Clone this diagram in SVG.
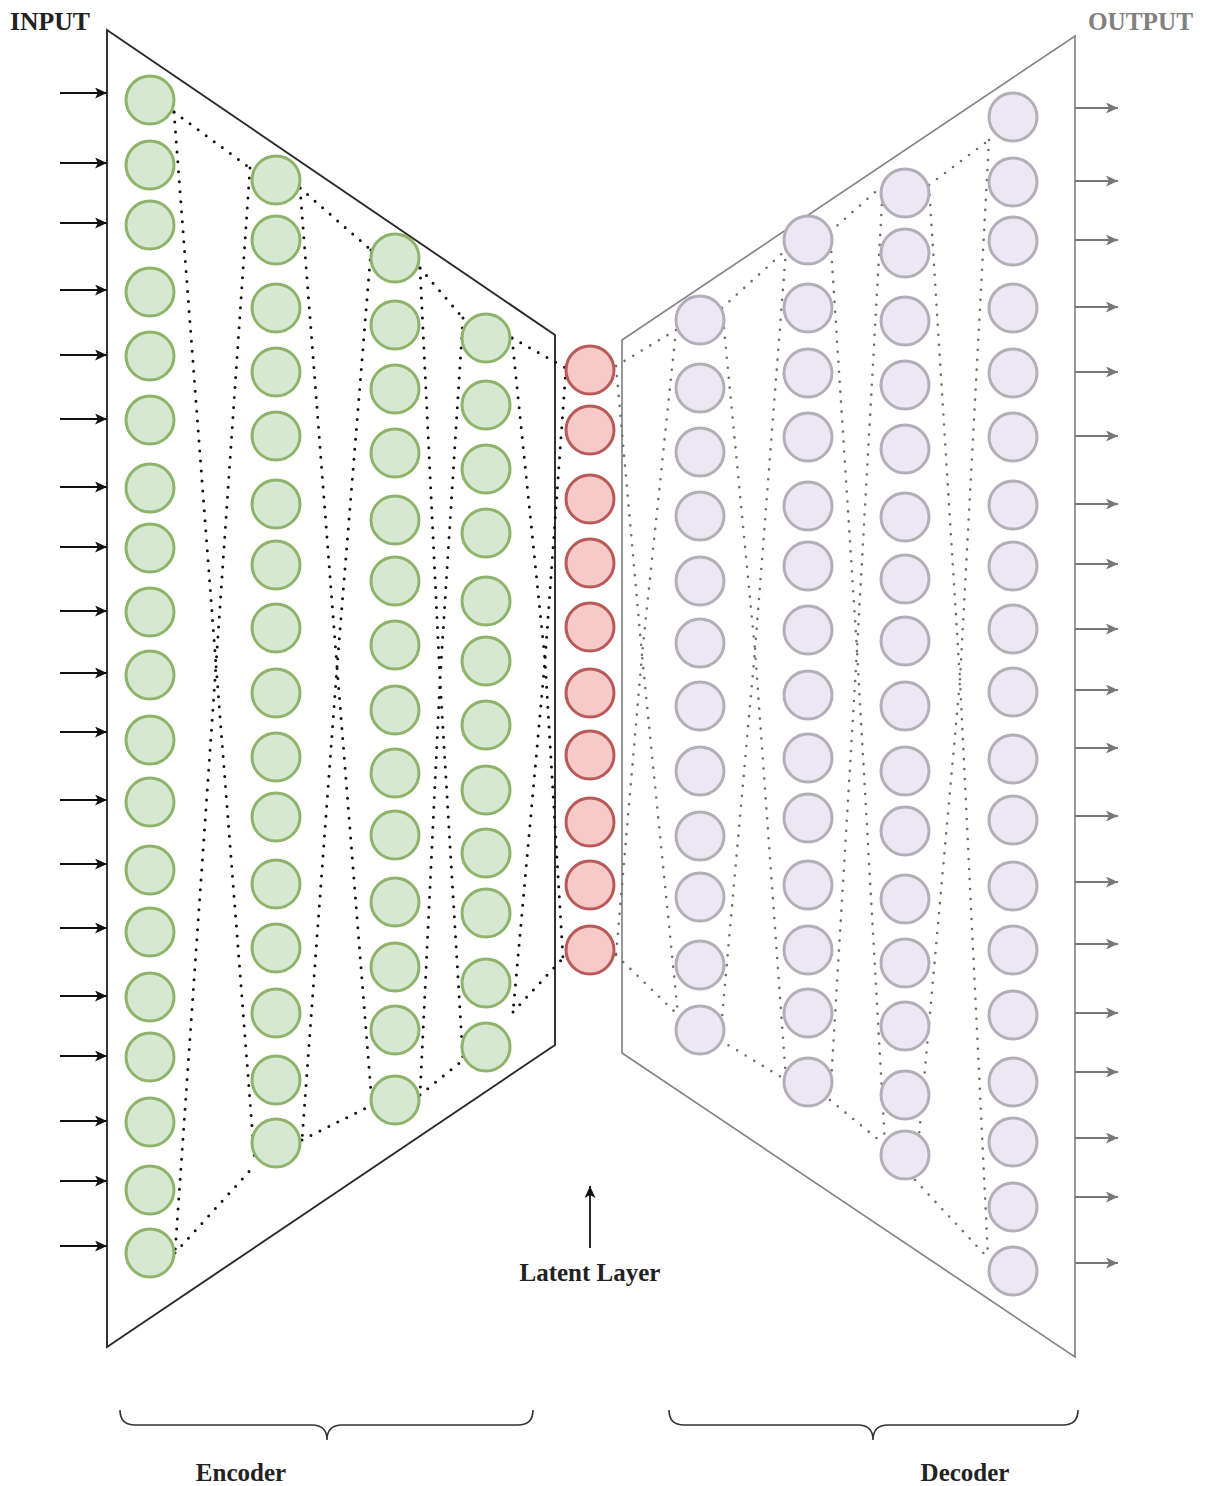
<svg xmlns="http://www.w3.org/2000/svg" width="1206" height="1486" viewBox="0 0 1206 1486">
<defs>
<style>
.ge{fill:#d7e8d2;stroke:#8db46a;stroke-width:3}
.lr{fill:#f5cac8;stroke:#b85a57;stroke-width:3}
.dp{fill:#ebe8f4;stroke:#b2afb8;stroke-width:3}
.edot{fill:none;stroke:#111;stroke-width:3;stroke-dasharray:0 10;stroke-linecap:round}
.ddot{fill:none;stroke:#6e6e6e;stroke-width:2.6;stroke-dasharray:0 10;stroke-linecap:round}
.tb{font-family:"Liberation Serif",serif;font-weight:bold;font-size:25px}
.ina{stroke:#111;stroke-width:1.8;marker-end:url(#ah)}
.outa{stroke:#777;stroke-width:1.8;marker-end:url(#ahg)}
</style>
<marker id="ah" markerUnits="userSpaceOnUse" markerWidth="13" markerHeight="11" refX="12" refY="5.5" orient="auto"><path d="M0,0 L12,5.5 L0,11 L3,5.5 z" fill="#111"/></marker>
<marker id="ahg" markerUnits="userSpaceOnUse" markerWidth="13" markerHeight="11" refX="12" refY="5.5" orient="auto"><path d="M0,0 L12,5.5 L0,11 L3,5.5 z" fill="#777"/></marker>
</defs>
<rect width="1206" height="1486" fill="#fff"/>
<g id="frames">
<polygon id="encoder-frame" points="107,30 555,335 555,1045 107,1347" fill="none" stroke="#2a2a2a" stroke-width="1.9"/>
<polygon id="decoder-frame" points="622,340 1075,36 1075,1357 622,1053" fill="none" stroke="#858585" stroke-width="1.7"/>
</g>
<g id="connectors">
<g id="encoder-dots">
<path class="edot" d="M174,112 L250,168"/>
<path class="edot" d="M300,188 L371,250"/>
<path class="edot" d="M420,268 L463,318"/>
<path class="edot" d="M512,338 L566,368"/>
<path class="edot" d="M175,1253 L255,1165"/>
<path class="edot" d="M302,1140 L372,1105"/>
<path class="edot" d="M420,1095 L463,1060"/>
<path class="edot" d="M513,1012 L563,958"/>
<path class="edot" d="M174,112 L216,665 L175,1253"/>
<path class="edot" d="M250,168 L216,665 L255,1165"/>
<path class="edot" d="M300,188 L337,667 L302,1140"/>
<path class="edot" d="M371,250 L337,667 L372,1105"/>
<path class="edot" d="M420,268 L440,680 L420,1095"/>
<path class="edot" d="M463,318 L440,680 L463,1060"/>
<path class="edot" d="M512,338 L545,660 L513,1012"/>
<path class="edot" d="M566,368 L545,660 L563,958"/>
</g>
<g id="decoder-dots">
<path class="ddot" d="M616,366 L676,330"/>
<path class="ddot" d="M722,308 L786,250"/>
<path class="ddot" d="M830,232 L883,185"/>
<path class="ddot" d="M929,185 L989,140"/>
<path class="ddot" d="M616,955 L678,1015"/>
<path class="ddot" d="M720,1040 L786,1080"/>
<path class="ddot" d="M830,1100 L885,1145"/>
<path class="ddot" d="M915,1180 L988,1258"/>
<path class="ddot" d="M616,366 L642,655 L616,955"/>
<path class="ddot" d="M676,330 L642,655 L678,1015"/>
<path class="ddot" d="M722,308 L755,650 L720,1040"/>
<path class="ddot" d="M786,250 L755,650 L786,1080"/>
<path class="ddot" d="M830,232 L857,650 L830,1100"/>
<path class="ddot" d="M883,185 L857,650 L885,1145"/>
<path class="ddot" d="M929,185 L960,680 L915,1180"/>
<path class="ddot" d="M989,140 L960,680 L988,1258"/>
</g>
<g id="input-arrows">
<line class="ina" x1="60" y1="93" x2="107" y2="93"/>
<line class="ina" x1="60" y1="163" x2="107" y2="163"/>
<line class="ina" x1="60" y1="223" x2="107" y2="223"/>
<line class="ina" x1="60" y1="290" x2="107" y2="290"/>
<line class="ina" x1="60" y1="355" x2="107" y2="355"/>
<line class="ina" x1="60" y1="419" x2="107" y2="419"/>
<line class="ina" x1="60" y1="487" x2="107" y2="487"/>
<line class="ina" x1="60" y1="547" x2="107" y2="547"/>
<line class="ina" x1="60" y1="611" x2="107" y2="611"/>
<line class="ina" x1="60" y1="673" x2="107" y2="673"/>
<line class="ina" x1="60" y1="732" x2="107" y2="732"/>
<line class="ina" x1="60" y1="800" x2="107" y2="800"/>
<line class="ina" x1="60" y1="864" x2="107" y2="864"/>
<line class="ina" x1="60" y1="928" x2="107" y2="928"/>
<line class="ina" x1="60" y1="996" x2="107" y2="996"/>
<line class="ina" x1="60" y1="1056" x2="107" y2="1056"/>
<line class="ina" x1="60" y1="1121" x2="107" y2="1121"/>
<line class="ina" x1="60" y1="1181" x2="107" y2="1181"/>
<line class="ina" x1="60" y1="1246" x2="107" y2="1246"/>
</g>
<g id="output-arrows">
<line class="outa" x1="1075" y1="108" x2="1118" y2="108"/>
<line class="outa" x1="1075" y1="181" x2="1118" y2="181"/>
<line class="outa" x1="1075" y1="240" x2="1118" y2="240"/>
<line class="outa" x1="1075" y1="307" x2="1118" y2="307"/>
<line class="outa" x1="1075" y1="372" x2="1118" y2="372"/>
<line class="outa" x1="1075" y1="436" x2="1118" y2="436"/>
<line class="outa" x1="1075" y1="504" x2="1118" y2="504"/>
<line class="outa" x1="1075" y1="564" x2="1118" y2="564"/>
<line class="outa" x1="1075" y1="629" x2="1118" y2="629"/>
<line class="outa" x1="1075" y1="690" x2="1118" y2="690"/>
<line class="outa" x1="1075" y1="748" x2="1118" y2="748"/>
<line class="outa" x1="1075" y1="816" x2="1118" y2="816"/>
<line class="outa" x1="1075" y1="882" x2="1118" y2="882"/>
<line class="outa" x1="1075" y1="944" x2="1118" y2="944"/>
<line class="outa" x1="1075" y1="1013" x2="1118" y2="1013"/>
<line class="outa" x1="1075" y1="1072" x2="1118" y2="1072"/>
<line class="outa" x1="1075" y1="1138" x2="1118" y2="1138"/>
<line class="outa" x1="1075" y1="1197" x2="1118" y2="1197"/>
<line class="outa" x1="1075" y1="1263" x2="1118" y2="1263"/>
</g>
<line id="latent-arrow" class="ina" x1="590" y1="1248" x2="590" y2="1186"/>
<g id="braces" fill="none" stroke="#333" stroke-width="1.6">
<path d="M120,1410 Q120,1425 135,1425 L312,1425 Q327,1425 327,1440 Q327,1425 342,1425 L518,1425 Q533,1425 533,1410"/>
<path d="M669,1410 Q669,1425 684,1425 L858,1425 Q873,1425 873,1440 Q873,1425 888,1425 L1063,1425 Q1078,1425 1078,1410"/>
</g>
</g>
<g id="encoder-layer1">
<g id="e1-01"><circle class="ge" cx="150" cy="100" r="24"/></g>
<g id="e1-02"><circle class="ge" cx="150" cy="165" r="24"/></g>
<g id="e1-03"><circle class="ge" cx="150" cy="225" r="24"/></g>
<g id="e1-04"><circle class="ge" cx="150" cy="292" r="24"/></g>
<g id="e1-05"><circle class="ge" cx="150" cy="356" r="24"/></g>
<g id="e1-06"><circle class="ge" cx="150" cy="420" r="24"/></g>
<g id="e1-07"><circle class="ge" cx="150" cy="488" r="24"/></g>
<g id="e1-08"><circle class="ge" cx="150" cy="548" r="24"/></g>
<g id="e1-09"><circle class="ge" cx="150" cy="612" r="24"/></g>
<g id="e1-10"><circle class="ge" cx="150" cy="675" r="24"/></g>
<g id="e1-11"><circle class="ge" cx="150" cy="740" r="24"/></g>
<g id="e1-12"><circle class="ge" cx="150" cy="802" r="24"/></g>
<g id="e1-13"><circle class="ge" cx="150" cy="870" r="24"/></g>
<g id="e1-14"><circle class="ge" cx="150" cy="932" r="24"/></g>
<g id="e1-15"><circle class="ge" cx="150" cy="997" r="24"/></g>
<g id="e1-16"><circle class="ge" cx="150" cy="1057" r="24"/></g>
<g id="e1-17"><circle class="ge" cx="150" cy="1122" r="24"/></g>
<g id="e1-18"><circle class="ge" cx="150" cy="1190" r="24"/></g>
<g id="e1-19"><circle class="ge" cx="150" cy="1253" r="24"/></g>
</g>
<g id="encoder-layer2">
<g id="e2-01"><circle class="ge" cx="276" cy="180" r="24"/></g>
<g id="e2-02"><circle class="ge" cx="276" cy="240" r="24"/></g>
<g id="e2-03"><circle class="ge" cx="276" cy="308" r="24"/></g>
<g id="e2-04"><circle class="ge" cx="276" cy="372" r="24"/></g>
<g id="e2-05"><circle class="ge" cx="276" cy="436" r="24"/></g>
<g id="e2-06"><circle class="ge" cx="276" cy="504" r="24"/></g>
<g id="e2-07"><circle class="ge" cx="276" cy="565" r="24"/></g>
<g id="e2-08"><circle class="ge" cx="276" cy="628" r="24"/></g>
<g id="e2-09"><circle class="ge" cx="276" cy="693" r="24"/></g>
<g id="e2-10"><circle class="ge" cx="276" cy="757" r="24"/></g>
<g id="e2-11"><circle class="ge" cx="276" cy="817" r="24"/></g>
<g id="e2-12"><circle class="ge" cx="276" cy="884" r="24"/></g>
<g id="e2-13"><circle class="ge" cx="276" cy="948" r="24"/></g>
<g id="e2-14"><circle class="ge" cx="276" cy="1013" r="24"/></g>
<g id="e2-15"><circle class="ge" cx="276" cy="1080" r="24"/></g>
<g id="e2-16"><circle class="ge" cx="276" cy="1143" r="24"/></g>
</g>
<g id="encoder-layer3">
<g id="e3-01"><circle class="ge" cx="395" cy="258" r="24"/></g>
<g id="e3-02"><circle class="ge" cx="395" cy="325" r="24"/></g>
<g id="e3-03"><circle class="ge" cx="395" cy="389" r="24"/></g>
<g id="e3-04"><circle class="ge" cx="395" cy="453" r="24"/></g>
<g id="e3-05"><circle class="ge" cx="395" cy="520" r="24"/></g>
<g id="e3-06"><circle class="ge" cx="395" cy="581" r="24"/></g>
<g id="e3-07"><circle class="ge" cx="395" cy="645" r="24"/></g>
<g id="e3-08"><circle class="ge" cx="395" cy="710" r="24"/></g>
<g id="e3-09"><circle class="ge" cx="395" cy="773" r="24"/></g>
<g id="e3-10"><circle class="ge" cx="395" cy="835" r="24"/></g>
<g id="e3-11"><circle class="ge" cx="395" cy="902" r="24"/></g>
<g id="e3-12"><circle class="ge" cx="395" cy="967" r="24"/></g>
<g id="e3-13"><circle class="ge" cx="395" cy="1030" r="24"/></g>
<g id="e3-14"><circle class="ge" cx="395" cy="1100" r="24"/></g>
</g>
<g id="encoder-layer4">
<g id="e4-01"><circle class="ge" cx="486" cy="338" r="24"/></g>
<g id="e4-02"><circle class="ge" cx="486" cy="405" r="24"/></g>
<g id="e4-03"><circle class="ge" cx="486" cy="469" r="24"/></g>
<g id="e4-04"><circle class="ge" cx="486" cy="533" r="24"/></g>
<g id="e4-05"><circle class="ge" cx="486" cy="601" r="24"/></g>
<g id="e4-06"><circle class="ge" cx="486" cy="661" r="24"/></g>
<g id="e4-07"><circle class="ge" cx="486" cy="725" r="24"/></g>
<g id="e4-08"><circle class="ge" cx="486" cy="790" r="24"/></g>
<g id="e4-09"><circle class="ge" cx="486" cy="853" r="24"/></g>
<g id="e4-10"><circle class="ge" cx="486" cy="913" r="24"/></g>
<g id="e4-11"><circle class="ge" cx="486" cy="983" r="24"/></g>
<g id="e4-12"><circle class="ge" cx="486" cy="1047" r="24"/></g>
</g>
<g id="latent-layer">
<g id="l-01"><circle class="lr" cx="590" cy="370" r="24"/></g>
<g id="l-02"><circle class="lr" cx="590" cy="430" r="24"/></g>
<g id="l-03"><circle class="lr" cx="590" cy="499" r="24"/></g>
<g id="l-04"><circle class="lr" cx="590" cy="563" r="24"/></g>
<g id="l-05"><circle class="lr" cx="590" cy="627" r="24"/></g>
<g id="l-06"><circle class="lr" cx="590" cy="693" r="24"/></g>
<g id="l-07"><circle class="lr" cx="590" cy="755" r="24"/></g>
<g id="l-08"><circle class="lr" cx="590" cy="822" r="24"/></g>
<g id="l-09"><circle class="lr" cx="590" cy="885" r="24"/></g>
<g id="l-10"><circle class="lr" cx="590" cy="950" r="24"/></g>
</g>
<g id="decoder-layer1">
<g id="d1-01"><circle class="dp" cx="700" cy="320" r="24"/></g>
<g id="d1-02"><circle class="dp" cx="700" cy="388" r="24"/></g>
<g id="d1-03"><circle class="dp" cx="700" cy="452" r="24"/></g>
<g id="d1-04"><circle class="dp" cx="700" cy="516" r="24"/></g>
<g id="d1-05"><circle class="dp" cx="700" cy="581" r="24"/></g>
<g id="d1-06"><circle class="dp" cx="700" cy="643" r="24"/></g>
<g id="d1-07"><circle class="dp" cx="700" cy="706" r="24"/></g>
<g id="d1-08"><circle class="dp" cx="700" cy="771" r="24"/></g>
<g id="d1-09"><circle class="dp" cx="700" cy="836" r="24"/></g>
<g id="d1-10"><circle class="dp" cx="700" cy="897" r="24"/></g>
<g id="d1-11"><circle class="dp" cx="700" cy="965" r="24"/></g>
<g id="d1-12"><circle class="dp" cx="700" cy="1030" r="24"/></g>
</g>
<g id="decoder-layer2">
<g id="d2-01"><circle class="dp" cx="808" cy="240" r="24"/></g>
<g id="d2-02"><circle class="dp" cx="808" cy="308" r="24"/></g>
<g id="d2-03"><circle class="dp" cx="808" cy="373" r="24"/></g>
<g id="d2-04"><circle class="dp" cx="808" cy="437" r="24"/></g>
<g id="d2-05"><circle class="dp" cx="808" cy="506" r="24"/></g>
<g id="d2-06"><circle class="dp" cx="808" cy="566" r="24"/></g>
<g id="d2-07"><circle class="dp" cx="808" cy="630" r="24"/></g>
<g id="d2-08"><circle class="dp" cx="808" cy="695" r="24"/></g>
<g id="d2-09"><circle class="dp" cx="808" cy="758" r="24"/></g>
<g id="d2-10"><circle class="dp" cx="808" cy="818" r="24"/></g>
<g id="d2-11"><circle class="dp" cx="808" cy="885" r="24"/></g>
<g id="d2-12"><circle class="dp" cx="808" cy="950" r="24"/></g>
<g id="d2-13"><circle class="dp" cx="808" cy="1013" r="24"/></g>
<g id="d2-14"><circle class="dp" cx="808" cy="1082" r="24"/></g>
</g>
<g id="decoder-layer3">
<g id="d3-01"><circle class="dp" cx="905" cy="193" r="24"/></g>
<g id="d3-02"><circle class="dp" cx="905" cy="253" r="24"/></g>
<g id="d3-03"><circle class="dp" cx="905" cy="321" r="24"/></g>
<g id="d3-04"><circle class="dp" cx="905" cy="385" r="24"/></g>
<g id="d3-05"><circle class="dp" cx="905" cy="449" r="24"/></g>
<g id="d3-06"><circle class="dp" cx="905" cy="517" r="24"/></g>
<g id="d3-07"><circle class="dp" cx="905" cy="579" r="24"/></g>
<g id="d3-08"><circle class="dp" cx="905" cy="641" r="24"/></g>
<g id="d3-09"><circle class="dp" cx="905" cy="706" r="24"/></g>
<g id="d3-10"><circle class="dp" cx="905" cy="771" r="24"/></g>
<g id="d3-11"><circle class="dp" cx="905" cy="831" r="24"/></g>
<g id="d3-12"><circle class="dp" cx="905" cy="899" r="24"/></g>
<g id="d3-13"><circle class="dp" cx="905" cy="963" r="24"/></g>
<g id="d3-14"><circle class="dp" cx="905" cy="1026" r="24"/></g>
<g id="d3-15"><circle class="dp" cx="905" cy="1095" r="24"/></g>
<g id="d3-16"><circle class="dp" cx="905" cy="1155" r="24"/></g>
</g>
<g id="decoder-layer4">
<g id="d4-01"><circle class="dp" cx="1013" cy="117" r="24"/></g>
<g id="d4-02"><circle class="dp" cx="1013" cy="182" r="24"/></g>
<g id="d4-03"><circle class="dp" cx="1013" cy="241" r="24"/></g>
<g id="d4-04"><circle class="dp" cx="1013" cy="308" r="24"/></g>
<g id="d4-05"><circle class="dp" cx="1013" cy="373" r="24"/></g>
<g id="d4-06"><circle class="dp" cx="1013" cy="437" r="24"/></g>
<g id="d4-07"><circle class="dp" cx="1013" cy="505" r="24"/></g>
<g id="d4-08"><circle class="dp" cx="1013" cy="566" r="24"/></g>
<g id="d4-09"><circle class="dp" cx="1013" cy="629" r="24"/></g>
<g id="d4-10"><circle class="dp" cx="1013" cy="692" r="24"/></g>
<g id="d4-11"><circle class="dp" cx="1013" cy="759" r="24"/></g>
<g id="d4-12"><circle class="dp" cx="1013" cy="820" r="24"/></g>
<g id="d4-13"><circle class="dp" cx="1013" cy="886" r="24"/></g>
<g id="d4-14"><circle class="dp" cx="1013" cy="950" r="24"/></g>
<g id="d4-15"><circle class="dp" cx="1013" cy="1015" r="24"/></g>
<g id="d4-16"><circle class="dp" cx="1013" cy="1082" r="24"/></g>
<g id="d4-17"><circle class="dp" cx="1013" cy="1142" r="24"/></g>
<g id="d4-18"><circle class="dp" cx="1013" cy="1207" r="24"/></g>
<g id="d4-19"><circle class="dp" cx="1013" cy="1271" r="24"/></g>
</g>
<g id="labels">
<text class="tb" x="10" y="30" fill="#222" font-size="26" textLength="80" lengthAdjust="spacingAndGlyphs">INPUT</text>
<text class="tb" x="1088" y="30" fill="#808080" textLength="105" lengthAdjust="spacingAndGlyphs">OUTPUT</text>
<text class="tb" x="590" y="1281" text-anchor="middle" fill="#222">Latent Layer</text>
<text class="tb" x="241" y="1481" text-anchor="middle" fill="#222">Encoder</text>
<text class="tb" x="965" y="1481" text-anchor="middle" fill="#222">Decoder</text>
</g>
</svg>
